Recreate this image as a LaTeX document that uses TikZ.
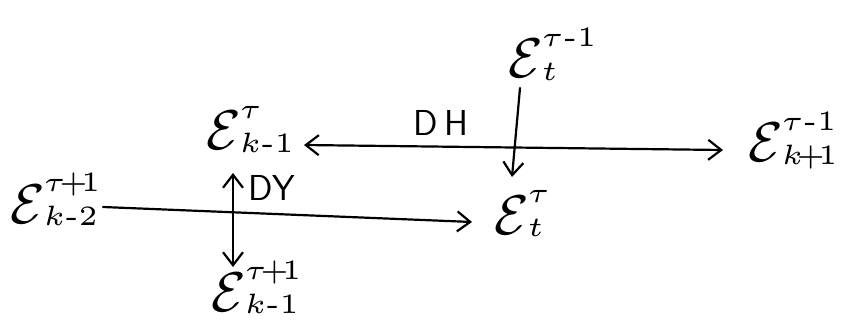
\documentclass[tikz,border=0pt]{standalone}
\usepackage{amsmath}
\usetikzlibrary{arrows.meta}
\newcommand{\mi}{\text{-}}
\newcommand{\pl}{\mkern-3mu+\mkern-3mu}
\newcommand{\lab}[2]{\scalebox{5.6}{$\mathcal{E}$\kern-0.2pt\rlap{\raisebox{5.6pt}{$\scriptscriptstyle #1$}}\raisebox{-0.4pt}{$\scriptscriptstyle #2$}}}
\newcommand{\bigT}[1]{\scalebox{1.45}{\sffamily #1}}
\begin{document}
\begin{tikzpicture}[x=1pt,y=-1pt,
  lbl/.style={inner sep=0pt,anchor=base west},
  tag/.style={inner sep=0pt,font=\Huge},
  tip/.tip={Straight Barb[length=13pt,width=20pt,line width=2.2pt]},
  arr/.style={line width=2.2pt,line cap=round,-tip},
  dbl/.style={line width=2.2pt,line cap=round,tip-tip}]
\useasboundingbox (0,0) rectangle (853,331);
\fill[white] (0,0) rectangle (853,331);
\node[lbl] (ekm1) at (206,150) {\lab{\tau}{k\mi 1}};
\node[lbl] (ettop) at (508,78) {\lab{\tau\mi 1}{t}};
\node[lbl] (ekp1) at (748,162) {\lab{\tau\mi 1}{k\pl 1}};
\node[lbl] (ekm2) at (10,223) {\lab{\tau\pl 1}{k\mi 2}};
\node[lbl] (et) at (494,234) {\lab{\tau}{t}};
\node[lbl] (ekm1b) at (211,311) {\lab{\tau\pl 1}{k\mi 1}};
% connectors
\draw[dbl] ([shift={(98,-5)}]ekm1.base west) -- ([shift={(-25,-12)}]ekp1.base west);
\draw[arr] ([shift={(12,10)}]ettop.base west) -- ([shift={(18,-57)}]et.base west);
\draw[arr] ([shift={(93,-16)}]ekm2.base west) -- ([shift={(-22,-12)}]et.base west);
\draw[dbl] ([shift={(27,23)}]ekm1.base west) -- ([shift={(22,-44)}]ekm1b.base west);
% labels
\node[tag] (dh) at (441,123) {\bigT{D\,H}};
\node[tag] (dy) at (272,188) {\bigT{DY}};
\end{tikzpicture}
\end{document}
